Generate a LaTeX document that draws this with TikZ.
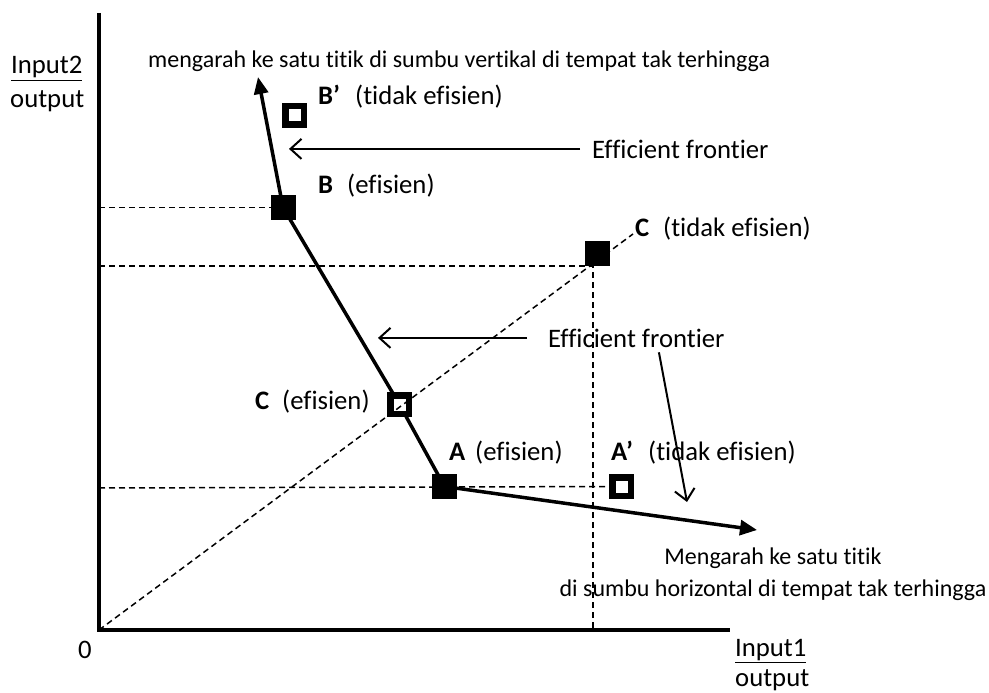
\documentclass[tikz,border=0pt]{standalone}
\usepackage{fontspec}
\setmainfont{Carlito}[Ligatures=NoCommon]
\usetikzlibrary{arrows.meta,backgrounds}
\begin{document}
\begin{tikzpicture}[x=1pt,y=-1pt,
  lbl/.style={font=\fontsize{26.7}{32}\selectfont, inner sep=0, anchor=base west},
  boldlbl/.style={lbl, font=\fontsize{26.7}{32}\selectfont\bfseries},
  note/.style={font=\fontsize{24}{29}\selectfont, inner sep=0, anchor=base},
  axisline/.style={line width=3.5pt, line join=miter},
  frontier/.style={line width=3.5pt},
  guide/.style={line width=1.5pt, dash pattern=on 6pt off 4pt},
  pointer/.style={line width=2pt, -{Straight Barb[length=11pt,width=20pt,line width=2pt]}},
  fullpt/.style={fill=black, minimum size=25pt, inner sep=0, outer sep=0},
  hollowpt/.style={draw=black, line width=6.5pt, minimum size=18.5pt, inner sep=0, outer sep=0},
]
\useasboundingbox (0,0) rectangle (989,693);

% key points
\coordinate (O) at (99,630);
\coordinate (yTop) at (99,13);
\coordinate (xEnd) at (730,630);
\coordinate (upTip) at (258,77);
\coordinate (rightTip) at (757,530);
\coordinate (Cpt) at (593,266);
\coordinate (diagEnd) at (633,234);
\coordinate (yB) at (99,207.5);
\coordinate (yC) at (99,266);
\coordinate (yA) at (99,488);
\coordinate (xC) at (593,630);
\coordinate (downTip) at (687,502);

% points
\node[fullpt] (B) at (283,207.5) {};
\node[hollowpt] (Bp) at (294.5,115.5) {};
\node[fullpt] (C) at (597.5,253.5) {};
\node[hollowpt] (Ch) at (399.5,404.5) {};
\node[fullpt] (A) at (444.5,486.5) {};
\node[hollowpt] (Ap) at (621.5,486.5) {};

\begin{pgfonlayer}{background}
  \draw[guide] (yB) -- (B);
  \draw[guide] (yC) -- (Cpt) -- (xC);
  \draw[guide] (yA) -- (Ap);
  \draw[guide] (O) -- (diagEnd);
  \draw[frontier, -{Triangle[length=17pt,width=14pt]}] (B.center) -- (upTip);
  \draw[frontier] (B.center) -- (Ch);
  \draw[frontier] (Ch) -- (A.center);
  \draw[frontier, -{Triangle[length=17pt,width=15pt]}] (A.center) -- (rightTip);
\end{pgfonlayer}

% axes
\draw[axisline] (yTop) -- (O) -- (xEnd);

% axis labels
\node[lbl] (in2) at (11,74) {\underline{Input2}};
\node[lbl] (out2) at (10,107) {output};
\node[lbl] (in1) at (735,656) {\underline{Input1}};
\node[lbl] (out1) at (735,686) {output};
\node[lbl, anchor=base] (zero) at (85,658) {0};

% notes
\node[note, anchor=base west] (topnote) at (148,68) {mengarah ke satu titik di sumbu vertikal di tempat tak terhingga};
\node[note] (bot1) at (773,564) {Mengarah ke satu titik};
\node[note] (bot2) at (773,596) {di sumbu horizontal di tempat tak terhingga};

% point labels
\node[boldlbl] (BpL) at (318,105) {B’};
\node[lbl] (BpT) at (355,105) {(tidak efisien)};
\node[boldlbl] (BL) at (318,193) {B};
\node[lbl] (BT) at (347,193) {(efisien)};
\node[boldlbl] (CL) at (635,236) {C};
\node[lbl] (CT) at (663,236) {(tidak efisien)};
\node[boldlbl] (ChL) at (255,409) {C};
\node[lbl] (ChT) at (282,409) {(efisien)};
\node[boldlbl] (AL) at (449,460) {A};
\node[lbl] (AT) at (475,460) {(efisien)};
\node[boldlbl] (ApL) at (611,460) {A’};
\node[lbl] (ApT) at (648,460) {(tidak efisien)};

% efficient frontier pointers
\node[lbl] (ef1) at (592,158) {Efficient frontier};
\node[lbl] (ef2) at (548,347) {Efficient frontier};
\draw[pointer, shorten <=12pt] (ef1.west) -- ++(-303,0);
\draw[pointer, shorten <=21pt] (ef2.west) -- ++(-170,0);
\draw[pointer, shorten <=5pt] ([xshift=110pt]ef2.south west) -- (downTip);
\end{tikzpicture}
\end{document}
